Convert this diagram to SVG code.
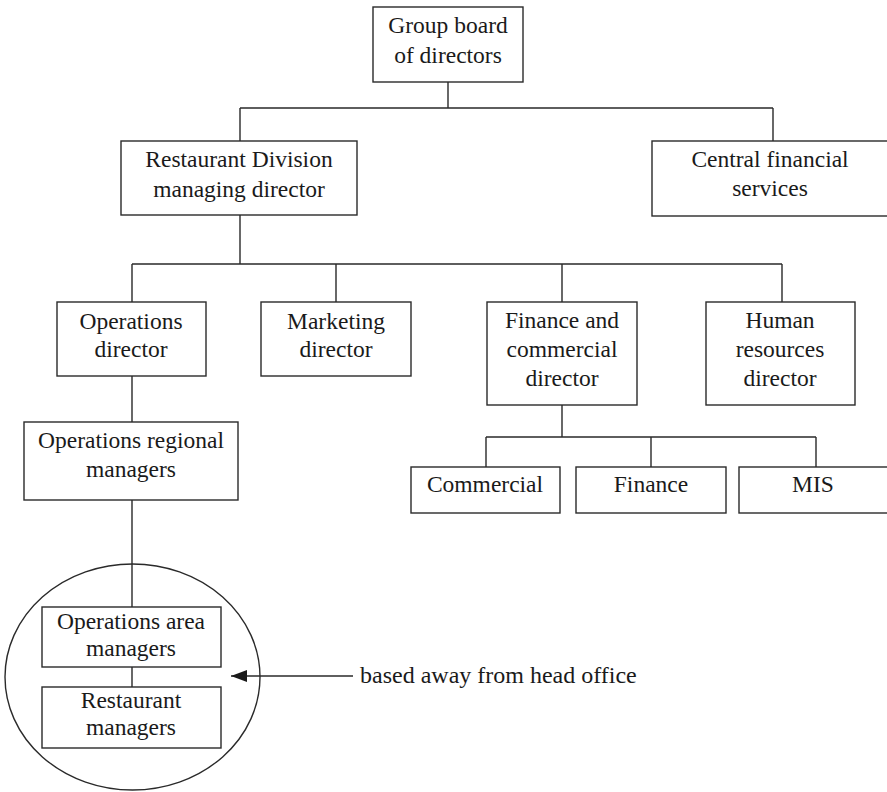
<svg xmlns="http://www.w3.org/2000/svg" width="887" height="792" viewBox="0 0 887 792">
<style>
.box{fill:#fff;stroke:#2a2a2a;stroke-width:1.4}
.ln{fill:none;stroke:#2a2a2a;stroke-width:1.4}
text{font-family:"Liberation Serif","Times New Roman",serif;font-size:23.5px;fill:#1a1a1a;text-anchor:middle}
</style>
<defs>
<marker id="ah" markerWidth="16" markerHeight="12" refX="16" refY="6" orient="auto" markerUnits="userSpaceOnUse">
<path d="M0,0 L16,6 L0,12 Z" fill="#1a1a1a"/>
</marker>
</defs>
<g id="connectors">
<path class="ln" d="M448,82 V108 M240,108 H773 M240,108 V141 M773,108 V141"/>
<path class="ln" d="M240,215 V264 M132,264 H782 M132,264 V302 M336,264 V302 M562,264 V302 M782,264 V302"/>
<path class="ln" d="M562,405 V437 M486,437 H816 M486,437 V467 M651,437 V467 M816,437 V467"/>
<path class="ln" d="M132,376 V422 M132,500 V607 M132,667 V687"/>
<line class="ln" x1="353" y1="676" x2="231" y2="676" marker-end="url(#ah)"/>
</g>
<g id="n-group"><rect class="box" x="373" y="7" width="150" height="75"/><text x="448" y="33">Group board</text><text x="448" y="63">of directors</text></g>
<g id="n-restaurant"><rect class="box" x="121" y="141" width="236" height="74"/><text x="239" y="167">Restaurant Division</text><text x="239" y="197">managing director</text></g>
<g id="n-central"><rect class="box" x="652" y="141" width="240" height="75"/><text x="770" y="167">Central financial</text><text x="770" y="196">services</text></g>
<g id="n-ops"><rect class="box" x="57" y="302" width="149" height="74"/><text x="131" y="329">Operations</text><text x="131" y="357">director</text></g>
<g id="n-marketing"><rect class="box" x="261" y="302" width="150" height="74"/><text x="336" y="329">Marketing</text><text x="336" y="357">director</text></g>
<g id="n-finance-dir"><rect class="box" x="487" y="302" width="150" height="103"/><text x="562" y="328">Finance and</text><text x="562" y="357">commercial</text><text x="562" y="386">director</text></g>
<g id="n-hr"><rect class="box" x="706" y="302" width="149" height="103"/><text x="780" y="328">Human</text><text x="780" y="357">resources</text><text x="780" y="386">director</text></g>
<g id="n-commercial"><rect class="box" x="411" y="467" width="149" height="46"/><text x="485" y="492">Commercial</text></g>
<g id="n-finance"><rect class="box" x="576" y="467" width="150" height="46"/><text x="651" y="492">Finance</text></g>
<g id="n-mis"><rect class="box" x="739" y="467" width="153" height="46"/><text x="813" y="492">MIS</text></g>
<g id="n-regional"><rect class="box" x="24" y="422" width="214" height="78"/><text x="131" y="448">Operations regional</text><text x="131" y="477">managers</text></g>
<g id="n-away"><ellipse class="ln" cx="132.5" cy="677" rx="127.5" ry="113"/></g>
<g id="n-area"><rect class="box" x="42" y="607" width="179" height="60"/><text x="131" y="629">Operations area</text><text x="131" y="656">managers</text></g>
<g id="n-restmgr"><rect class="box" x="42" y="687" width="179" height="61"/><text x="131" y="708">Restaurant</text><text x="131" y="735">managers</text></g>
<g id="n-label"><text x="360" y="683" style="text-anchor:start;font-size:24px">based away from head office</text></g>
</svg>
